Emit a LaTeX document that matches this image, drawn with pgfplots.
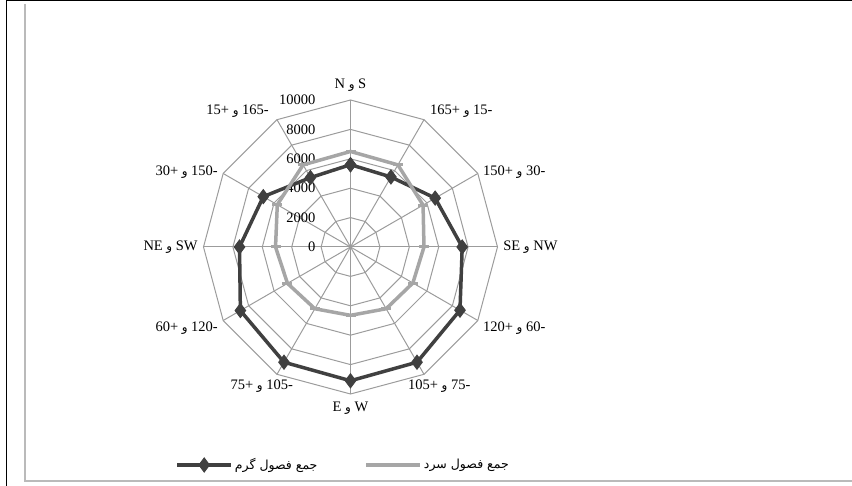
\documentclass[border=0pt]{standalone}
\usepackage{pgfplots}
\pgfplotsset{compat=1.18}
\usepgfplotslibrary{polar}
\usepackage{fontspec}
\setmainfont{Liberation Serif}
\newfontfamily\arabicfont[Script=Arabic]{DejaVu Sans}
\TeXXeTstate=1
\definecolor{darkser}{HTML}{404040}
\definecolor{lightser}{HTML}{A6A6A6}
\definecolor{gridc}{HTML}{9C9C9C}
\newcommand{\wa}{{\arabicfont\fontsize{12pt}{12pt}\selectfont و}}
\begin{document}
\begin{tikzpicture}
\path[use as bounding box] (0,0) rectangle (852pt,486pt);
% frame
\draw[black, line width=1pt] (6pt,486pt) -- (6pt,0pt);
\draw[black, line width=1pt] (6pt,485.5pt) -- (852pt,485.5pt);
\draw[gridc!70, line width=1.2pt] (25pt,482pt) -- (25pt,5pt) -- (852pt,5pt);
\begin{polaraxis}[
  at={(350.5pt,239pt)}, anchor=center,
  scale only axis, width=294pt, height=294pt,
  xmin=0, xmax=360, ymin=0, ymax=10000,
  hide axis, clip=false,
  legend columns=2,
  legend style={at={(axis description cs:0.475,-0.2415)}, anchor=center,
    draw=none, fill=none, font=\arabicfont\fontsize{12.5pt}{14pt}\selectfont,
    /tikz/every even column/.append style={column sep=45pt}},
  legend image code/.code={\draw[mark repeat=2,mark phase=2,#1] plot coordinates {(0pt,0pt)(27pt,0pt)(54pt,0pt)};},
]
% polygon grid
\pgfplotsinvokeforeach{2000,4000,6000,8000,10000}{
  \draw[gridc, line width=1pt] (axis cs:0,#1) -- (axis cs:30,#1) -- (axis cs:60,#1) -- (axis cs:90,#1) -- (axis cs:120,#1) -- (axis cs:150,#1) -- (axis cs:180,#1) -- (axis cs:210,#1) -- (axis cs:240,#1) -- (axis cs:270,#1) -- (axis cs:300,#1) -- (axis cs:330,#1) -- cycle;
}
\pgfplotsinvokeforeach{0,30,60,90,120,150,180,210,240,270,300,330}{
  \draw[gridc, line width=1pt] (axis cs:#1,0) -- (axis cs:#1,10000);
}
% radial tick labels
\pgfplotsinvokeforeach{0,2000,4000,6000,8000,10000}{
  \node[anchor=east, inner sep=0pt, font=\fontsize{14.5pt}{15pt}\selectfont] at ([xshift=-35pt]axis cs:90,#1) {#1};
}
\addplot[darkser, line width=3.5pt, mark=diamond*, mark size=7pt, mark options={solid, fill=darkser, line width=1pt}]
  coordinates {(90,5600)(60,5500)(30,6650)(0,7600)(330,8600)(300,9050)(270,9100)(240,9050)(210,8650)(180,7550)(150,6850)(120,5450)(90,5600)};
\addlegendentry{\beginR جمع فصول گرم\endR}
\addplot[lightser, line width=3.5pt, mark=-, mark size=5pt, mark options={solid, line width=3pt}]
  coordinates {(90,6500)(60,6450)(30,5700)(0,5000)(330,4900)(300,4850)(270,4650)(240,4850)(210,4950)(180,5100)(150,5750)(120,6450)(90,6500)};
\addlegendentry{\beginR جمع فصول سرد\endR}
% category labels
\begin{scope}[every node/.style={font=\fontsize{14.5pt}{15pt}\selectfont, inner sep=2pt}]
\node[anchor=south] at (axis cs:90,10400) {N \wa{} S};
\node[anchor=south west] at ([xshift=4pt]axis cs:60,10000) {165+ \wa{} 15-};
\node[anchor=west] at (axis cs:30,10250) {150+ \wa{} 30-};
\node[anchor=west] at (axis cs:0,10250) {SE \wa{} NW};
\node[anchor=west] at ([yshift=-6pt]axis cs:330,10250) {120+ \wa{} 60-};
\node[anchor=north west] at ([xshift=-20pt]axis cs:300,10250) {105+ \wa{} 75-};
\node[anchor=north] at (axis cs:270,10400) {E \wa{} W};
\node[anchor=north east] at ([xshift=20pt]axis cs:240,10250) {75+ \wa{} 105-};
\node[anchor=east] at ([yshift=-6pt]axis cs:210,10250) {60+ \wa{} 120-};
\node[anchor=east] at (axis cs:180,10250) {NE \wa{} SW};
\node[anchor=east] at (axis cs:150,10250) {30+ \wa{} 150-};
\node[anchor=south east] at ([xshift=-6pt]axis cs:120,10000) {15+ \wa{} 165-};
\end{scope}
\end{polaraxis}
\end{tikzpicture}
\end{document}
